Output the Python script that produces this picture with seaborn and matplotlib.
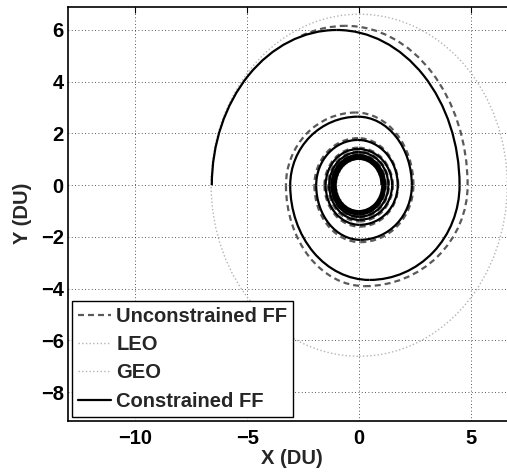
import numpy as np
import matplotlib
matplotlib.use("Agg")
import matplotlib.pyplot as plt
from matplotlib.lines import Line2D
from matplotlib.patches import Arc, Circle
import seaborn as sns

# ---------------------------------------------------------------------------
# Orbit raising LEO -> GEO, canonical distance units (DU).
# Each trajectory spirals counter-clockwise.  It is described by the points
# where it crosses the X axis (alternately on the +X and -X side) and by the
# extreme point (top / bottom) of every half revolution between two crossings.
# ---------------------------------------------------------------------------
R_LEO = 1.0
R_GEO = 6.61

# Constrained FF
cff_cross_x = [1.00, -1.05, 1.03, -1.09, 1.07, -1.13, 1.11, -1.18, 1.16, -1.24,
               1.30, -1.34, 1.47, -1.50, 1.72, -1.92, 2.35, -3.08, 4.48, -6.58]
cff_peak_x = [-0.02, -0.02, -0.03, -0.02, -0.03, -0.02, -0.03, -0.02, -0.04, 0.0,
              -0.02, 0.0, -0.05, 0.02, -0.06, 0.05, -0.06, 0.46, -1.00]
cff_peak_y = [1.02, -1.00, 1.05, -1.04, 1.08, -1.08, 1.12, -1.13, 1.17, -1.22,
              1.28, -1.34, 1.40, -1.53, 1.75, -2.11, 2.65, -3.66, 6.00]

# Unconstrained FF (joins the constrained path near the top of the last turn)
uff_cross_x = [1.00, -1.07, 1.05, -1.11, 1.09, -1.16, 1.14, -1.21, 1.19, -1.28,
               1.33, -1.39, 1.50, -1.55, 1.74, -2.00, 2.42, -3.27, 4.84]
uff_peak_x = [-0.02, -0.02, -0.03, -0.02, -0.03, -0.02, -0.03, -0.02, -0.04, 0.0,
              -0.02, 0.0, -0.05, 0.02, -0.05, 0.05, -0.15, 0.25, -0.60]
uff_peak_y = [1.03, -1.02, 1.07, -1.06, 1.11, -1.11, 1.15, -1.16, 1.21, -1.26,
              1.31, -1.40, 1.45, -1.60, 1.82, -2.20, 2.81, -3.90, 6.16]
uff_join = (-2.67, 5.74)

labels = ["Unconstrained FF", "LEO", "GEO", "Constrained FF"]
x_ticks = [-10, -5, 0, 5]
y_ticks = [-8, -6, -4, -2, 0, 2, 4, 6]

FONT = 14.5
dash_col = "#5a5a5a"
orbit_col = "#b4b4b4"
dash_style = (0, (2.7, 1.8))


def draw_spiral(ax, cross_x, peak_x, peak_y, end_point=None, **style):
    """Draw a spiral as quarter-ellipse arcs in data coordinates.

    Half revolution i runs from cross_x[i] through (peak_x[i], peak_y[i]) to
    cross_x[i + 1]; if that crossing is missing the last quarter stops at
    end_point instead."""
    for i, (cx, h) in enumerate(zip(peak_x, peak_y)):
        x0 = cross_x[i]
        x1 = cross_x[i + 1] if i + 1 < len(cross_x) else None
        b = abs(h)
        if h > 0:       # upper half: +X side -> top -> -X side
            quarters = [(x0 - cx, 0.0, 90.0)]
            second = (90.0, 180.0)
        else:           # lower half: -X side -> bottom -> +X side
            quarters = [(cx - x0, 180.0, 270.0)]
            second = (270.0, 360.0)
        if x1 is not None:
            quarters.append((abs(x1 - cx), *second))
        elif end_point is not None:
            ex, ey = end_point
            a = abs(ex - cx) / np.sqrt(1.0 - (ey / b) ** 2)
            ang = np.degrees(np.arctan2(ey, ex - cx)) % 360.0
            quarters.append((a, second[0], ang))
        for a, t1, t2 in quarters:
            ax.add_patch(Arc((cx, 0.0), 2 * a, 2 * b, theta1=t1, theta2=t2,
                             **style))


sns.set_style("white")
plt.rcParams["font.family"] = ["Liberation Sans", "DejaVu Sans"]
plt.rcParams["font.weight"] = "bold"
plt.rcParams["axes.labelweight"] = "bold"
plt.rcParams["font.size"] = FONT

fig = plt.figure(figsize=(5.07, 4.72), dpi=100)
ax = fig.add_axes([68 / 507, 51.3 / 472, 448 / 507, 414 / 472])

draw_spiral(ax, uff_cross_x, uff_peak_x, uff_peak_y, end_point=uff_join,
            edgecolor=dash_col, linewidth=1.6, linestyle=dash_style, zorder=2)

for r in (R_LEO, R_GEO):
    ax.add_patch(Circle((0, 0), r, fill=False, edgecolor=orbit_col,
                        linewidth=1.0, linestyle=":", zorder=2.5))

draw_spiral(ax, cff_cross_x, cff_peak_x, cff_peak_y,
            edgecolor="black", linewidth=1.6, zorder=3)

ax.set_xlim(-13, 7)
ax.set_ylim(-9.1, 6.9)
ax.set_xticks(x_ticks)
ax.set_yticks(y_ticks)
ax.set_xticklabels([f"{t:d}".replace("-", "\u2212") for t in x_ticks])
ax.set_yticklabels([f"{t:d}".replace("-", "\u2212") for t in y_ticks])
ax.set_xlabel("X (DU)", fontsize=FONT, fontweight="bold", labelpad=1)
ax.set_ylabel("Y (DU)", fontsize=FONT, fontweight="bold", labelpad=6)

ax.grid(True, color="#222222", linewidth=0.6, linestyle=(0, (1, 3)))
ax.set_axisbelow(True)
ax.tick_params(direction="in", length=4, width=0.8, top=True, right=True,
               labelsize=FONT, colors="black")
ax.tick_params(axis="x", pad=6)
ax.tick_params(axis="y", pad=3)
for s in ax.spines.values():
    s.set_visible(True)
    s.set_color("black")
    s.set_linewidth(1.2)

handles = [
    Line2D([], [], color=dash_col, linewidth=1.6, linestyle=dash_style),
    Line2D([], [], color=orbit_col, linewidth=1.0, linestyle=":"),
    Line2D([], [], color=orbit_col, linewidth=1.0, linestyle=":"),
    Line2D([], [], color="black", linewidth=1.6),
]
leg = ax.legend(handles, labels, loc="lower left", frameon=True,
                fancybox=False, edgecolor="black", framealpha=1,
                borderaxespad=0.2, borderpad=0.3, handlelength=1.65,
                handletextpad=0.25, labelspacing=0.46,
                prop={"weight": "bold", "size": FONT})
leg.get_frame().set_linewidth(1.0)
leg.set_zorder(10)

fig.savefig("out.png", dpi=100)
